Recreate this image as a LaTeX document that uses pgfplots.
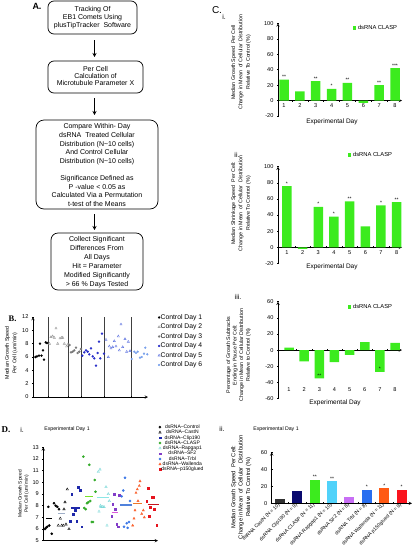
\documentclass[border=0pt]{standalone}
\usepackage{pgfplots}
\pgfplotsset{compat=1.18}
\usepackage{pgfplotstable}
\usepackage{fontspec}
\setmainfont{Liberation Sans}
\newfontfamily\seriffont{Liberation Serif}
\usetikzlibrary{arrows.meta}
\newcommand\fs[2]{\fontsize{#1}{#2}\selectfont}
\definecolor{clasp}{RGB}{60,235,30}
\definecolor{dgrey}{RGB}{150,150,150}
\definecolor{mgrey}{RGB}{120,120,120}
\definecolor{dfour}{RGB}{40,45,200}
\definecolor{dfive}{RGB}{100,120,225}
\definecolor{dsix}{RGB}{120,160,235}
\definecolor{cclip}{RGB}{30,40,170}
\definecolor{cclasp}{RGB}{50,170,40}
\definecolor{crap}{RGB}{120,215,215}
\definecolor{csf}{RGB}{130,60,200}
\definecolor{ctrbl}{RGB}{60,120,230}
\definecolor{cwall}{RGB}{250,100,50}
\definecolor{cp}{RGB}{230,20,30}
\definecolor{bcast}{RGB}{50,50,50}
\definecolor{bclip}{RGB}{10,10,110}
\definecolor{brap}{RGB}{80,210,250}
\definecolor{bsf}{RGB}{200,110,245}
\definecolor{btrbl}{RGB}{40,110,240}
\definecolor{bwall}{RGB}{255,90,20}
\definecolor{bp}{RGB}{250,20,30}

\pgfplotstableread{
x y s
1 27 **
2 12 {}
3 25 **
4 15 *
5 23 **
6 -3 {}
7 20 **
8 42 ***
}\tabCi
\pgfplotstableread{
x y s
1 76 *
2 -2 {}
3 50 *
4 38 *
5 57 **
6 26 {}
7 52 *
8 56 **
}\tabCii
\pgfplotstableread{
x y s
1 3 {}
2 -14 {}
3 -35 **
4 -15 {}
5 -6 {}
6 10 {}
7 -27 *
8 9 {}
}\tabCiii

\pgfplotsset{
  base/.style={scale only axis, anchor=south west, clip=false,
    /pgf/number format/assume math mode=true,
    tick label style={font=\fs{5.6}{6}},
    axis line style={-, line width=0.5pt},
    tick style={black, line width=0.5pt},
    major tick length=2pt, tick align=outside,
    label style={font=\fs{5.3}{7.4}},
    ylabel style={align=center, anchor=south},
  },
  cpanel/.style={base, width=124pt, axis y line=left, axis x line=middle,
    xtick={1.5,2.5,...,7.5}, xticklabels={},
    extra x ticks={1,2,...,8}, extra x tick style={major tick length=0pt},
    xlabel style={font=\fs{6.5}{7}, anchor=center},
    legend style={draw=none, fill=none, anchor=west, font=\fs{5.8}{6}, inner sep=0pt},
  },
  cbar/.style={ybar, bar width=9.5pt, fill=clasp, draw=none,
    nodes near coords, point meta=explicit symbolic,
    nodes near coords style={font=\fs{5}{5}, inner sep=0.8pt},
    legend image code/.code={\fill[clasp] (0pt,-1.7pt) rectangle (3.4pt,1.7pt);}},
  mk/.style={only marks, mark size=1.1pt},
}

\begin{document}
\begin{tikzpicture}
\path[use as bounding box] (0pt,0pt) rectangle (412pt,-555pt);

% ---------------- Panel A: flowchart
\node[font=\bfseries\fs{9}{9}] at (37pt,-6pt) {A.};
\draw[rounded corners=6pt, line width=0.7pt] (48pt,-1pt) rectangle (137pt,-34pt);
\node[align=center, font=\fs{7}{7.8}] at (92.5pt,-17.5pt) {Tracking Of\\EB1 Comets Using\\plusTipTracker\ \ Software};
\draw[line width=1pt, -{Stealth[length=4pt,width=4pt]}] (94.5pt,-40pt) -- (94.5pt,-57pt);
\draw[rounded corners=6pt, line width=0.7pt] (48pt,-61pt) rectangle (143pt,-93pt);
\node[align=center, font=\fs{7}{6.9}] at (95.5pt,-76pt) {Per Cell\\Calculation of\\Microtubule Parameter X};
\draw[line width=1pt, -{Stealth[length=4pt,width=4pt]}] (94.5pt,-98pt) -- (94.5pt,-115pt);
\draw[rounded corners=8pt, line width=0.7pt] (36pt,-120pt) rectangle (158pt,-209pt);
\node[align=center, font=\fs{7}{8.6}] at (97pt,-165pt) {Compare Within- Day\\dsRNA\ \ Treated Cellular\\Distribution (N\textasciitilde10 cells)\\And Control Cellular\\Distribution (N\textasciitilde10 cells)\\[8.6pt]Significance Defined as\\P -value < 0.05 as\\Calculated Via a Permutation\\t-test of the Means};
\draw[line width=1pt, -{Stealth[length=4pt,width=4pt]}] (94.5pt,-214pt) -- (94.5pt,-230pt);
\draw[rounded corners=7pt, line width=0.7pt] (51pt,-233pt) rectangle (143pt,-290pt);
\node[align=center, font=\fs{7}{9}] at (97pt,-262pt) {Collect Significant\\Differences From\\All Days\\Hit = Parameter\\Modified Significantly\\> 66 \% Days Tested};

% ---------------- Panel B
\node[font=\seriffont\bfseries\fs{8.5}{9}] at (12.5pt,-319pt) {B.};
\begin{axis}[base, width=115pt, height=80pt, at={(33pt,-397pt)},
  xmin=33, xmax=148, ymin=0, ymax=12,
  axis x line=bottom, axis y line=left,
  xtick={48,68,81.5,104,131.5}, xticklabels={}, xmajorgrids,
  grid style={black!75, line width=0.4pt},
  ytick={0,2,...,12},
  ylabel={Median Growth Speed\\Per Cell (um/min)},
  ylabel style={at={(axis description cs:-0.105,0.55)}},
  legend style={draw=none, fill=none, at={(1.085,1.04)}, anchor=north west,
    font=\fs{6.8}{7}, inner sep=0pt, row sep=2.6pt,
    nodes={inner sep=0.4pt, text height=4.8pt, text depth=1.3pt}},
  legend image code/.code={\draw[mark repeat=2,mark phase=2,#1] plot coordinates {(0pt,0pt)(2.5pt,0pt)(5pt,0pt)};},
]
\addplot[mk, black, mark=*, mark size=1pt] coordinates {(35.5,6.0)(37,6.1)(39,6.2)(40,8.0)(41.5,6.2)(43,7.0)(44,5.6)(45.7,8.2)(47,8.1)};
\addlegendentry{Control Day 1}
\addplot[mk, dgrey, mark=triangle, mark size=1.3pt] coordinates {(49.5,8.0)(51,9.0)(52.7,9.1)(54.3,8.9)(56,10.3)(57.7,8.0)(60,8.8)(61.7,8.9)(62.7,8.9)(64.3,8.0)(66.7,7.6)(68,7.9)};
\addlegendentry{Control Day 2}
\addplot[mk, mgrey, mark=*, mark size=1pt] coordinates {(69.5,7.8)(71,6.7)(72.7,6.8)(74.3,7.0)(76,7.4)(77.7,6.6)(79.3,6.8)(81,7.2)};
\addlegendentry{Control Day 3}
\addplot[mk, dfour, mark=*, mark size=1pt] coordinates {(82.3,6.2)(84.3,6.7)(86,7.0)(87.7,6.8)(89.3,6.4)(91,7.3)(92.7,6.1)(94.3,5.8)(96,4.7)(97.7,6.6)(99,8.3)(100.3,5.8)(102,9.5)(104,6.5)};
\addlegendentry{Control Day 4}
\addplot[mk, dfive, mark=triangle, mark size=1.3pt] coordinates {(106,8.6)(108.3,6.0)(109.3,7.6)(111,7.3)(112.7,7.5)(114.3,8.4)(116,7.6)(118.3,9.1)(119.3,7.0)(121,10.9)(122.7,7.5)(125,8.7)(126.7,6.8)(128.3,8.3)(130,6.9)};
\addlegendentry{Control Day 5}
\addplot[mk, dsix, mark=*, mark size=0.9pt] coordinates {(131.7,5.7)(134.3,6.8)(136,6.6)(137.7,6.8)(140,5.9)(141.7,6.0)(144,6.5)(145.3,7.4)(147.3,6.4)};
\addlegendentry{Control Day 6}
\end{axis}

% ---------------- Panel C
\node[font=\fs{10}{10}] at (217pt,-10pt) {C.};
\node[font=\fs{7}{7}] at (224pt,-17pt) {i.};
\begin{axis}[cpanel, height=92.7pt, at={(278pt,-116pt)},
  xmin=0.62, xmax=8.44, ymin=-20, ymax=100, ytick={-20,0,...,100},
  ylabel={Median Growth Speed\ \ Per Cell\\Change in Mean\ \ of Cellular\ \ Distribution\\Relative To Control (\%)},
  ylabel style={at={(axis description cs:-0.19,0.58)}},
  xlabel={Experimental Day}, xlabel style={at={(axis description cs:0.435,-0.065)}},
  legend style={at={(0.6,0.95)}}]
\addplot[cbar] table[x=x, y=y, meta=s] {\tabCi};
\addlegendentry{dsRNA CLASP}
\end{axis}

\node[font=\fs{7}{7}] at (237pt,-155pt) {ii.};
\begin{axis}[cpanel, height=96.7pt, at={(278pt,-263.4pt)},
  xmin=0.43, xmax=8.34, ymin=-20, ymax=100, ytick={-20,0,...,100},
  ylabel={Median Shrinkage Speed\ \ Per Cell:\\Change in Mean\ \ of Cellular\ \ Distribution\\Relative To Control (\%)},
  ylabel style={at={(axis description cs:-0.19,0.62)}},
  xlabel={Experimental Day}, xlabel style={at={(axis description cs:0.435,-0.034)}},
  legend style={at={(0.56,1.12)}}]
\addplot[cbar] table[x=x, y=y, meta=s] {\tabCii};
\addlegendentry{dsRNA CLASP}
\end{axis}

\node[font=\fs{7}{7}] at (238pt,-297pt) {iii.};
\begin{axis}[cpanel, height=96.8pt, at={(278pt,-398.5pt)},
  xmin=0.27, xmax=8.46, ymin=-60, ymax=60, ytick={-60,-40,...,60},
  xticklabel style={yshift=-34pt},
  ylabel={Percentage of Growth Subtracks\\Ending in Pause Per Cell:\\Change in Mean of Cellular Distribution\\Relative to Control (\%)},
  ylabel style={at={(axis description cs:-0.19,0.45)}, font=\fs{5.3}{6.6}},
  xlabel={Experimental Day}, xlabel style={at={(axis description cs:0.46,-0.046)}},
  legend style={at={(0.56,0.945)}}]
\addplot[cbar] table[x=x, y=y, meta=s] {\tabCiii};
\addlegendentry{dsRNA CLASP}
\end{axis}

% ---------------- Panel D i
\node[font=\seriffont\bfseries\fs{9}{9}] at (6pt,-430pt) {D.};
\node[font=\fs{7}{7}] at (22pt,-430pt) {i.};
\node[font=\fs{5.2}{5.5}] at (67pt,-429.5pt) {Experimental Day 1};
\begin{axis}[base, width=114.7pt, height=93.4pt, at={(43.3pt,-540.7pt)},
  xmin=43.3, xmax=158, ymin=5, ymax=13,
  axis x line=bottom, axis y line=left, xtick=\empty, ytick={5,6,...,13},
  ylabel={Median Growth Speed\\Per Cell (um/min)},
  ylabel style={at={(axis description cs:-0.095,0.5)}, font=\fs{4.8}{6.2}},
  legend style={draw=none, fill=none, at={(1.005,1.245)}, anchor=north west,
    font=\fs{5}{5}, inner sep=0pt, row sep=0.3pt,
    nodes={inner sep=0.2pt, text height=3.6pt, text depth=1pt}},
  legend image code/.code={\draw[mark repeat=2,mark phase=2,#1] plot coordinates {(0pt,0pt)(2pt,0pt)(4pt,0pt)};},
]
\addplot[mk, black, mark=*] coordinates {(45,6.0)(46,6.1)(47.3,6.2)(48.3,7.9)(49.3,6.3)(51.7,5.6)(54,8.2)(55.7,8.0)(57.3,7.9)(59,7.7)};
\addlegendentry{dsRNA--Control}
\addplot[mk, black, mark=triangle, mark size=1.4pt] coordinates {(58.3,6.3)(60.3,6.9)(61.7,6.3)(63.3,6.3)(64,7.7)(65,8.3)(66,6.4)(67.3,9.4)(69,6.0)};
\addlegendentry{dsRNA--CastN}
\addplot[mk, cclip, mark=square*, mark size=0.9pt] coordinates {(70,6.7)(71.7,9.0)(73.3,7.3)(75,7.6)(76.7,6.7)(78.3,9.6)(80,9.3)(81.7,6.2)};
\addlegendentry{dsRNA--Clip190}
\addplot[mk, cclasp, mark=*] coordinates {(83.3,12.2)(84.3,7.8)(85.7,7.7)(87,8.2)(88.3,8.3)(89.3,11.5)(90.3,8.4)(91.7,6.6)(93,6.6)(94.7,10.2)(95.5,9.2)};
\addlegendentry{dsRNA--CLASP}
\addplot[mk, crap, mark=triangle, mark size=1.4pt] coordinates {(98.3,10.9)(99,7.5)(100,11.1)(100.5,8.0)(101,7.9)(102.7,7.9)(104,7.9)(106,9.6)(107,6.3)(108.3,9.0)(109.3,8.4)};
\addlegendentry{dsRNA--Rapgap1}
\addplot[mk, csf, mark=square*, mark size=0.9pt] coordinates {(111.7,7.1)(112.7,8.1)(114,9.0)(115.3,7.7)(116.7,6.4)(118,6.2)(119.3,8.9)};
\addlegendentry{dsRNA--SF2}
\addplot[mk, ctrbl, mark=*] coordinates {(121.7,8.8)(123.3,9.3)(124,6.2)(125,10.4)(126.7,6.5)(127.7,6.1)(129,6.6)(130,8.4)};
\addlegendentry{dsRNA--Trbl}
\addplot[mk, cwall, mark=triangle*, mark size=1.3pt] coordinates {(132.7,6.3)(134,6.9)(135,7.6)(136,9.1)(137.3,9.4)(138,8.4)(139.3,9.7)(140,10.1)(141.7,7.3)(143.3,7.6)(144.3,7.0)};
\addlegendentry{dsRNA--Wallenda}
\addplot[mk, cp, mark=square*, mark size=0.9pt] coordinates {(146.7,8.4)(148.3,9.5)(149,7.1)(150,7.9)(151.7,8.7)(153.3,8.7)(154,7.7)(156.7,6.3)};
\addlegendentry{dsRNA--p150glued}
% group medians
\addplot[forget plot, black, line width=1.2pt] coordinates {(46,6.9)(52,6.9)};
\addplot[forget plot, color={rgb,255:red,160;green,175;blue,200}, line width=1.2pt] coordinates {(58,7.3)(65,7.3)};
\addplot[forget plot, cclip, line width=1.2pt] coordinates {(71,7.8)(80,7.8)};
\addplot[forget plot, color={rgb,255:red,120;green,225;blue,40}, line width=1.2pt] coordinates {(85.5,8.8)(93,8.8)};
\addplot[forget plot, color={rgb,255:red,140;green,230;blue,230}, line width=1.2pt] coordinates {(97,8.7)(109,8.7)};
\addplot[forget plot, color={rgb,255:red,220;green,90;blue,220}, line width=1.2pt] coordinates {(111.7,7.45)(118.3,7.45)};
\addplot[forget plot, color={rgb,255:red,80;green,130;blue,220}, line width=1.2pt] coordinates {(120,8.05)(131.7,8.05)};
\addplot[forget plot, color={rgb,255:red,240;green,120;blue,40}, line width=1.2pt] coordinates {(133.3,8.2)(141.7,8.2)};
\addplot[forget plot, color={rgb,255:red,200;green,20;blue,30}, line width=1.2pt] coordinates {(148.3,8.1)(159.3,8.1)};
\end{axis}

% ---------------- Panel D ii
\node[font=\fs{7}{7}] at (222pt,-429pt) {ii.};
\node[font=\fs{5.2}{5.5}] at (276pt,-429pt) {Experimental Day 1};
\begin{axis}[base, width=140.3pt, height=51pt, at={(271.7pt,-503.3pt)},
  xmin=0.52, xmax=8.6, ymin=0, ymax=60,
  axis x line=bottom, axis y line=left, ytick={0,20,40,60},
  xtick={1.5,2.5,...,7.5}, xticklabels={},
  extra x ticks={1,2,...,8}, extra x tick style={major tick length=0pt},
  extra x tick labels={{dsRNA CastN (N = 10)},{dsRNA Clip190 (N = 9)},{dsRNA CLASP (N = 11)},{dsRNA Rapgap1 (N = 10)},{dsRNA SF2 (N = 8)},{dsRNA Trbl (N = 8)},{dsRNA Wallenda (N = 11)},{dsRNA p150glued (N = 9)}},
  xticklabel style={rotate=45, anchor=east, font=\fs{5}{6}, inner sep=1pt},
  ylabel={Median Growth Speed\ \ Per Cell:\\Change in Mean\ \ of Cellular\ \ Distribution\\Relative To Control (\%)},
  ylabel style={at={(axis description cs:-0.12,0.32)}, font=\fs{5.8}{7.4}},
  bar width=10pt,
  nodes near coords style={font=\fs{5}{5}, inner sep=0.8pt},
]
\addplot[ybar, bar shift=0pt, fill=bcast, draw=none] coordinates {(1,5)};
\addplot[ybar, bar shift=0pt, fill=bclip, draw=none] coordinates {(2,14)};
\addplot[ybar, bar shift=0pt, fill=clasp, draw=none, nodes near coords={**}] coordinates {(3,28)};
\addplot[ybar, bar shift=0pt, fill=brap, draw=none, nodes near coords={**}] coordinates {(4,26)};
\addplot[ybar, bar shift=0pt, fill=bsf, draw=none] coordinates {(5,7)};
\addplot[ybar, bar shift=0pt, fill=btrbl, draw=none, nodes near coords={*}] coordinates {(6,16)};
\addplot[ybar, bar shift=0pt, fill=bwall, draw=none, nodes near coords={*}] coordinates {(7,18)};
\addplot[ybar, bar shift=0pt, fill=bp, draw=none, nodes near coords={*}] coordinates {(8,16)};
\end{axis}
\end{tikzpicture}
\end{document}
